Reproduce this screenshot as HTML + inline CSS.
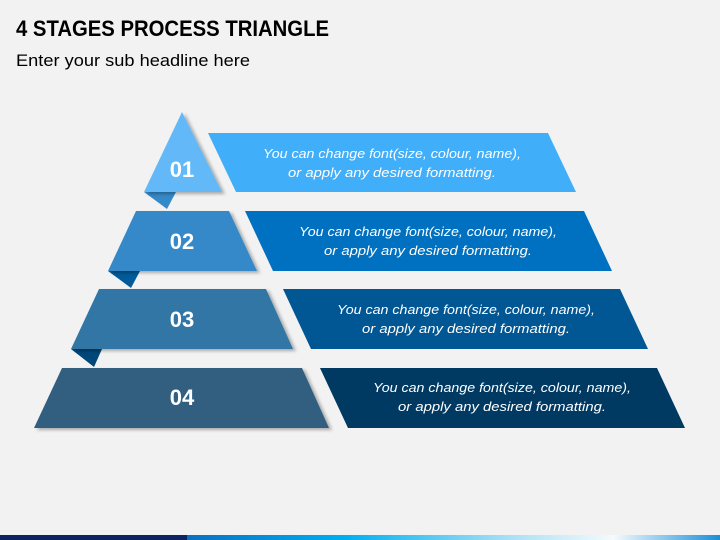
<!DOCTYPE html>
<html><head><style>
html,body{margin:0;padding:0;background:#f2f2f2;}
svg{display:block}
text{font-family:"Liberation Sans",sans-serif}
</style></head><body>
<svg width="720" height="540" viewBox="0 0 720 540">
<defs>
<linearGradient id="bar" x1="0" x2="1" y1="0" y2="0">
<stop offset="0" stop-color="#0a6fc0"/>
<stop offset="0.3" stop-color="#00b0f0"/>
<stop offset="0.6" stop-color="#a8dff5"/>
<stop offset="0.8" stop-color="#f4fafd"/>
<stop offset="1" stop-color="#1a8fd8"/>
</linearGradient>
<filter id="sh" x="-10%" y="-10%" width="130%" height="130%"><feDropShadow dx="3" dy="2" stdDeviation="1.5" flood-color="#000" flood-opacity="0.3"/></filter>
</defs>
<rect width="720" height="540" fill="#f2f2f2"/>
<text x="16" y="36" font-size="22" font-weight="bold" fill="#000" textLength="313" lengthAdjust="spacingAndGlyphs">4 STAGES PROCESS TRIANGLE</text>
<text x="16" y="66" font-size="17" fill="#000" textLength="234" lengthAdjust="spacingAndGlyphs">Enter your sub headline here</text>

<polygon points="144,192 176,192 167,209" fill="#3489c9"/>
<polygon points="108,271 140,271 131,288" fill="#015a9a"/>
<polygon points="71,349 102,349 94,367" fill="#00477a"/>

<g filter="url(#sh)">
<polygon points="182,112 222,192 144,192" fill="#64b9f7"/>
<polygon points="136,211 229,211 257,271 108,271" fill="#3489c9"/>
<polygon points="99,289 266,289 293,349 71,349" fill="#3276a5"/>
<polygon points="62,368 302,368 329,428 34,428" fill="#335f80"/>
</g>
<g font-size="22" font-weight="bold" fill="#fff" text-anchor="middle">
<text x="182" y="177">01</text>
<text x="182" y="249">02</text>
<text x="182" y="327">03</text>
<text x="182" y="405">04</text>
</g>

<polygon points="208,133 548,133 576,192 236,192" fill="#41aefa"/>
<polygon points="245,211 584,211 612,271 273,271" fill="#0071c1"/>
<polygon points="283,289 620,289 648,349 311,349" fill="#015694"/>
<polygon points="320,368 657,368 685,428 348,428" fill="#003a63"/>
<g font-size="13" font-style="italic" fill="#fff" text-anchor="middle">
<text x="392" y="158" textLength="258" lengthAdjust="spacingAndGlyphs">You can change font(size, colour, name),</text>
<text x="392" y="177" textLength="208" lengthAdjust="spacingAndGlyphs">or apply any desired formatting.</text>
<text x="428" y="236" textLength="258" lengthAdjust="spacingAndGlyphs">You can change font(size, colour, name),</text>
<text x="428" y="255" textLength="208" lengthAdjust="spacingAndGlyphs">or apply any desired formatting.</text>
<text x="466" y="314" textLength="258" lengthAdjust="spacingAndGlyphs">You can change font(size, colour, name),</text>
<text x="466" y="333" textLength="208" lengthAdjust="spacingAndGlyphs">or apply any desired formatting.</text>
<text x="502" y="392" textLength="258" lengthAdjust="spacingAndGlyphs">You can change font(size, colour, name),</text>
<text x="502" y="411" textLength="208" lengthAdjust="spacingAndGlyphs">or apply any desired formatting.</text>
</g>

<rect x="0" y="535" width="187" height="5" fill="#0c2461"/>
<rect x="187" y="535" width="533" height="5" fill="url(#bar)"/>
</svg>
</body></html>
